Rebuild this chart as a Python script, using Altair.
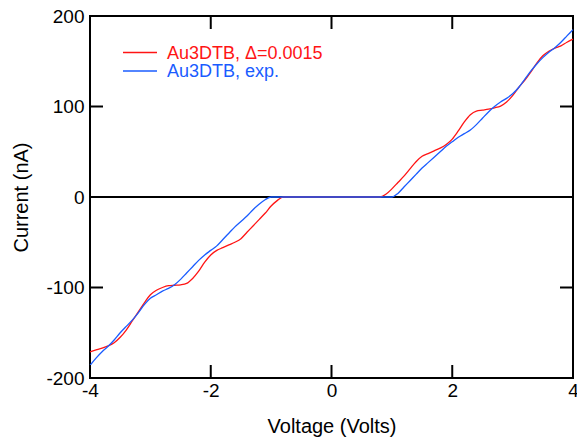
import altair as alt
import pandas as pd

# ---- data ----
red_v = [-4.0, -3.9, -3.8, -3.7, -3.6, -3.5, -3.4, -3.3, -3.2, -3.1, -3.0, -2.9, -2.8, -2.7, -2.6,
         -2.5, -2.4, -2.3, -2.2, -2.1, -2.0, -1.9, -1.8, -1.7, -1.6, -1.5, -1.4, -1.3, -1.2, -1.1,
         -1.0, -0.9, -0.8, 0.8, 0.9, 1.0, 1.1, 1.2, 1.3, 1.4, 1.5, 1.6, 1.7, 1.8, 1.9, 2.0, 2.1,
         2.2, 2.3, 2.4, 2.5, 2.6, 2.7, 2.8, 2.9, 3.0, 3.1, 3.2, 3.3, 3.4, 3.5, 3.6, 3.7, 3.8, 3.9, 4.0]
red_i = [-171, -169, -167, -164.5, -161, -155, -147, -137, -127, -117, -108, -103, -100, -98, -97.5,
         -97, -95.5, -90, -82, -72, -64, -59, -56, -53, -50, -46, -39, -32, -25, -18,
         -10, -4, 0, 0, 3, 9, 16, 23, 31, 39, 45, 48, 51, 54, 58, 64, 73,
         83, 91, 95, 96, 97, 98.5, 100.5, 105, 112, 121, 129, 138, 148, 156, 161, 164.5, 167, 171, 174.5]

blue_v = [-4.0, -3.9, -3.8, -3.7, -3.6, -3.5, -3.4, -3.3, -3.2, -3.1, -3.0, -2.9, -2.8, -2.7, -2.6,
          -2.5, -2.4, -2.3, -2.2, -2.1, -2.0, -1.9, -1.8, -1.7, -1.6, -1.5, -1.4, -1.3, -1.2, -1.1,
          -1.0, 1.0, 1.1, 1.2, 1.3, 1.4, 1.5, 1.6, 1.7, 1.8, 1.9, 2.0, 2.1, 2.2, 2.3, 2.4, 2.5,
          2.6, 2.7, 2.8, 2.9, 3.0, 3.1, 3.2, 3.3, 3.4, 3.5, 3.6, 3.7, 3.8, 3.9, 4.0]
blue_i = [-186, -178, -171, -165, -158, -150, -143, -136, -128, -119, -112, -108, -104, -101, -97,
          -91, -84, -77, -70, -64, -59, -54, -47, -40, -33, -27, -21, -14, -8, -3,
          0, 0, 4, 11, 18, 25, 32, 38, 44, 50, 56, 61, 66, 70, 74, 80, 87,
          94, 100, 105, 109, 114, 121, 130, 139, 147, 154, 160, 165, 171, 178, 185]

series_names = ["Au3DTB, \u0394=0.0015", "Au3DTB, exp."]
series_colors = ["#ff1414", "#1a5cff"]

x_ticks = [-4, -2, 0, 2, 4]
y_ticks = [-200, -100, 0, 100, 200]

# ---- build tables ----
df = pd.concat([
    pd.DataFrame({"V": red_v, "I": red_i, "s": series_names[0], "o": 0}),
    pd.DataFrame({"V": blue_v, "I": blue_i, "s": series_names[1], "o": 1}),
])
xt = pd.DataFrame({"v": x_ticks})
yt = pd.DataFrame({"v": y_ticks})

W, H = 483, 362
FONT = "Liberation Sans"
TL = 13

xs = alt.Scale(domain=[-4, 4], nice=False, zero=False)
ys = alt.Scale(domain=[-200, 200], nice=False, zero=False)

xaxis = alt.Axis(values=x_ticks, labelExpr="toString(datum.value)", ticks=False, domain=False,
                 grid=False, labelFontSize=19,
                 labelFont=FONT, labelColor="black", labelPadding=3, title="Voltage (Volts)",
                 titleFont=FONT, titleFontSize=20, titleFontWeight="normal", titleColor="black",
                 titlePadding=16, labelFlush=False, labelOverlap=False)
yaxis = alt.Axis(values=y_ticks, labelExpr="toString(datum.value)", ticks=False, domain=False,
                 grid=False, labelFontSize=19,
                 labelFont=FONT, labelColor="black", labelPadding=6, title="Current (nA)",
                 titleFont=FONT, titleFontSize=20, titleFontWeight="normal", titleColor="black",
                 titlePadding=14, labelFlush=False, labelOverlap=False)

zero = alt.Chart(pd.DataFrame({"z": [0]})).mark_rule(color="black", strokeWidth=2).encode(
    y=alt.Y("z:Q", scale=ys, axis=yaxis))

lines = alt.Chart(df).mark_line(strokeWidth=1.3, interpolate="monotone").encode(
    x=alt.X("V:Q", scale=xs, axis=xaxis),
    y=alt.Y("I:Q", scale=ys),
    color=alt.Color("s:N", scale=alt.Scale(domain=series_names, range=series_colors),
                    sort=series_names, legend=None),
    order="o:Q",
    detail="s:N",
)

tb = alt.Chart(xt).mark_rule(color="black", strokeWidth=2).encode(
    x=alt.X("v:Q", scale=xs), y=alt.value(H), y2=alt.value(H - TL))
tt = alt.Chart(xt).mark_rule(color="black", strokeWidth=2).encode(
    x=alt.X("v:Q", scale=xs), y=alt.value(0), y2=alt.value(TL))
tl = alt.Chart(yt).mark_rule(color="black", strokeWidth=2).encode(
    y=alt.Y("v:Q", scale=ys), x=alt.value(0), x2=alt.value(TL))
tr = alt.Chart(yt).mark_rule(color="black", strokeWidth=2).encode(
    y=alt.Y("v:Q", scale=ys), x=alt.value(W), x2=alt.value(W - TL))

# legend (manual, inside the plot, top-left)
leg_layers = []
for k, (nm, col) in enumerate(zip(series_names, series_colors)):
    ly = 36.5 + 18.5 * k
    ldf = pd.DataFrame({"s": [nm]})
    leg_layers.append(alt.Chart(ldf).mark_rule(color=col, strokeWidth=1.3).encode(
        x=alt.value(33), x2=alt.value(67), y=alt.value(ly)))
    leg_layers.append(alt.Chart(ldf).mark_text(color=col, font=FONT, fontSize=18, align="left",
                                               baseline="middle").encode(
        x=alt.value(77), y=alt.value(ly + 1), text="s:N"))

chart = alt.layer(zero, lines, tb, tt, tl, tr, *leg_layers).properties(
    width=W, height=H,
    autosize=alt.AutoSizeParams(type="none"),
    padding={"left": 90, "top": 16, "right": 4, "bottom": 59},
    background="white",
).configure_view(stroke="black", strokeWidth=2)

chart.save("out.html", embed_options={"renderer": "svg", "actions": False})
